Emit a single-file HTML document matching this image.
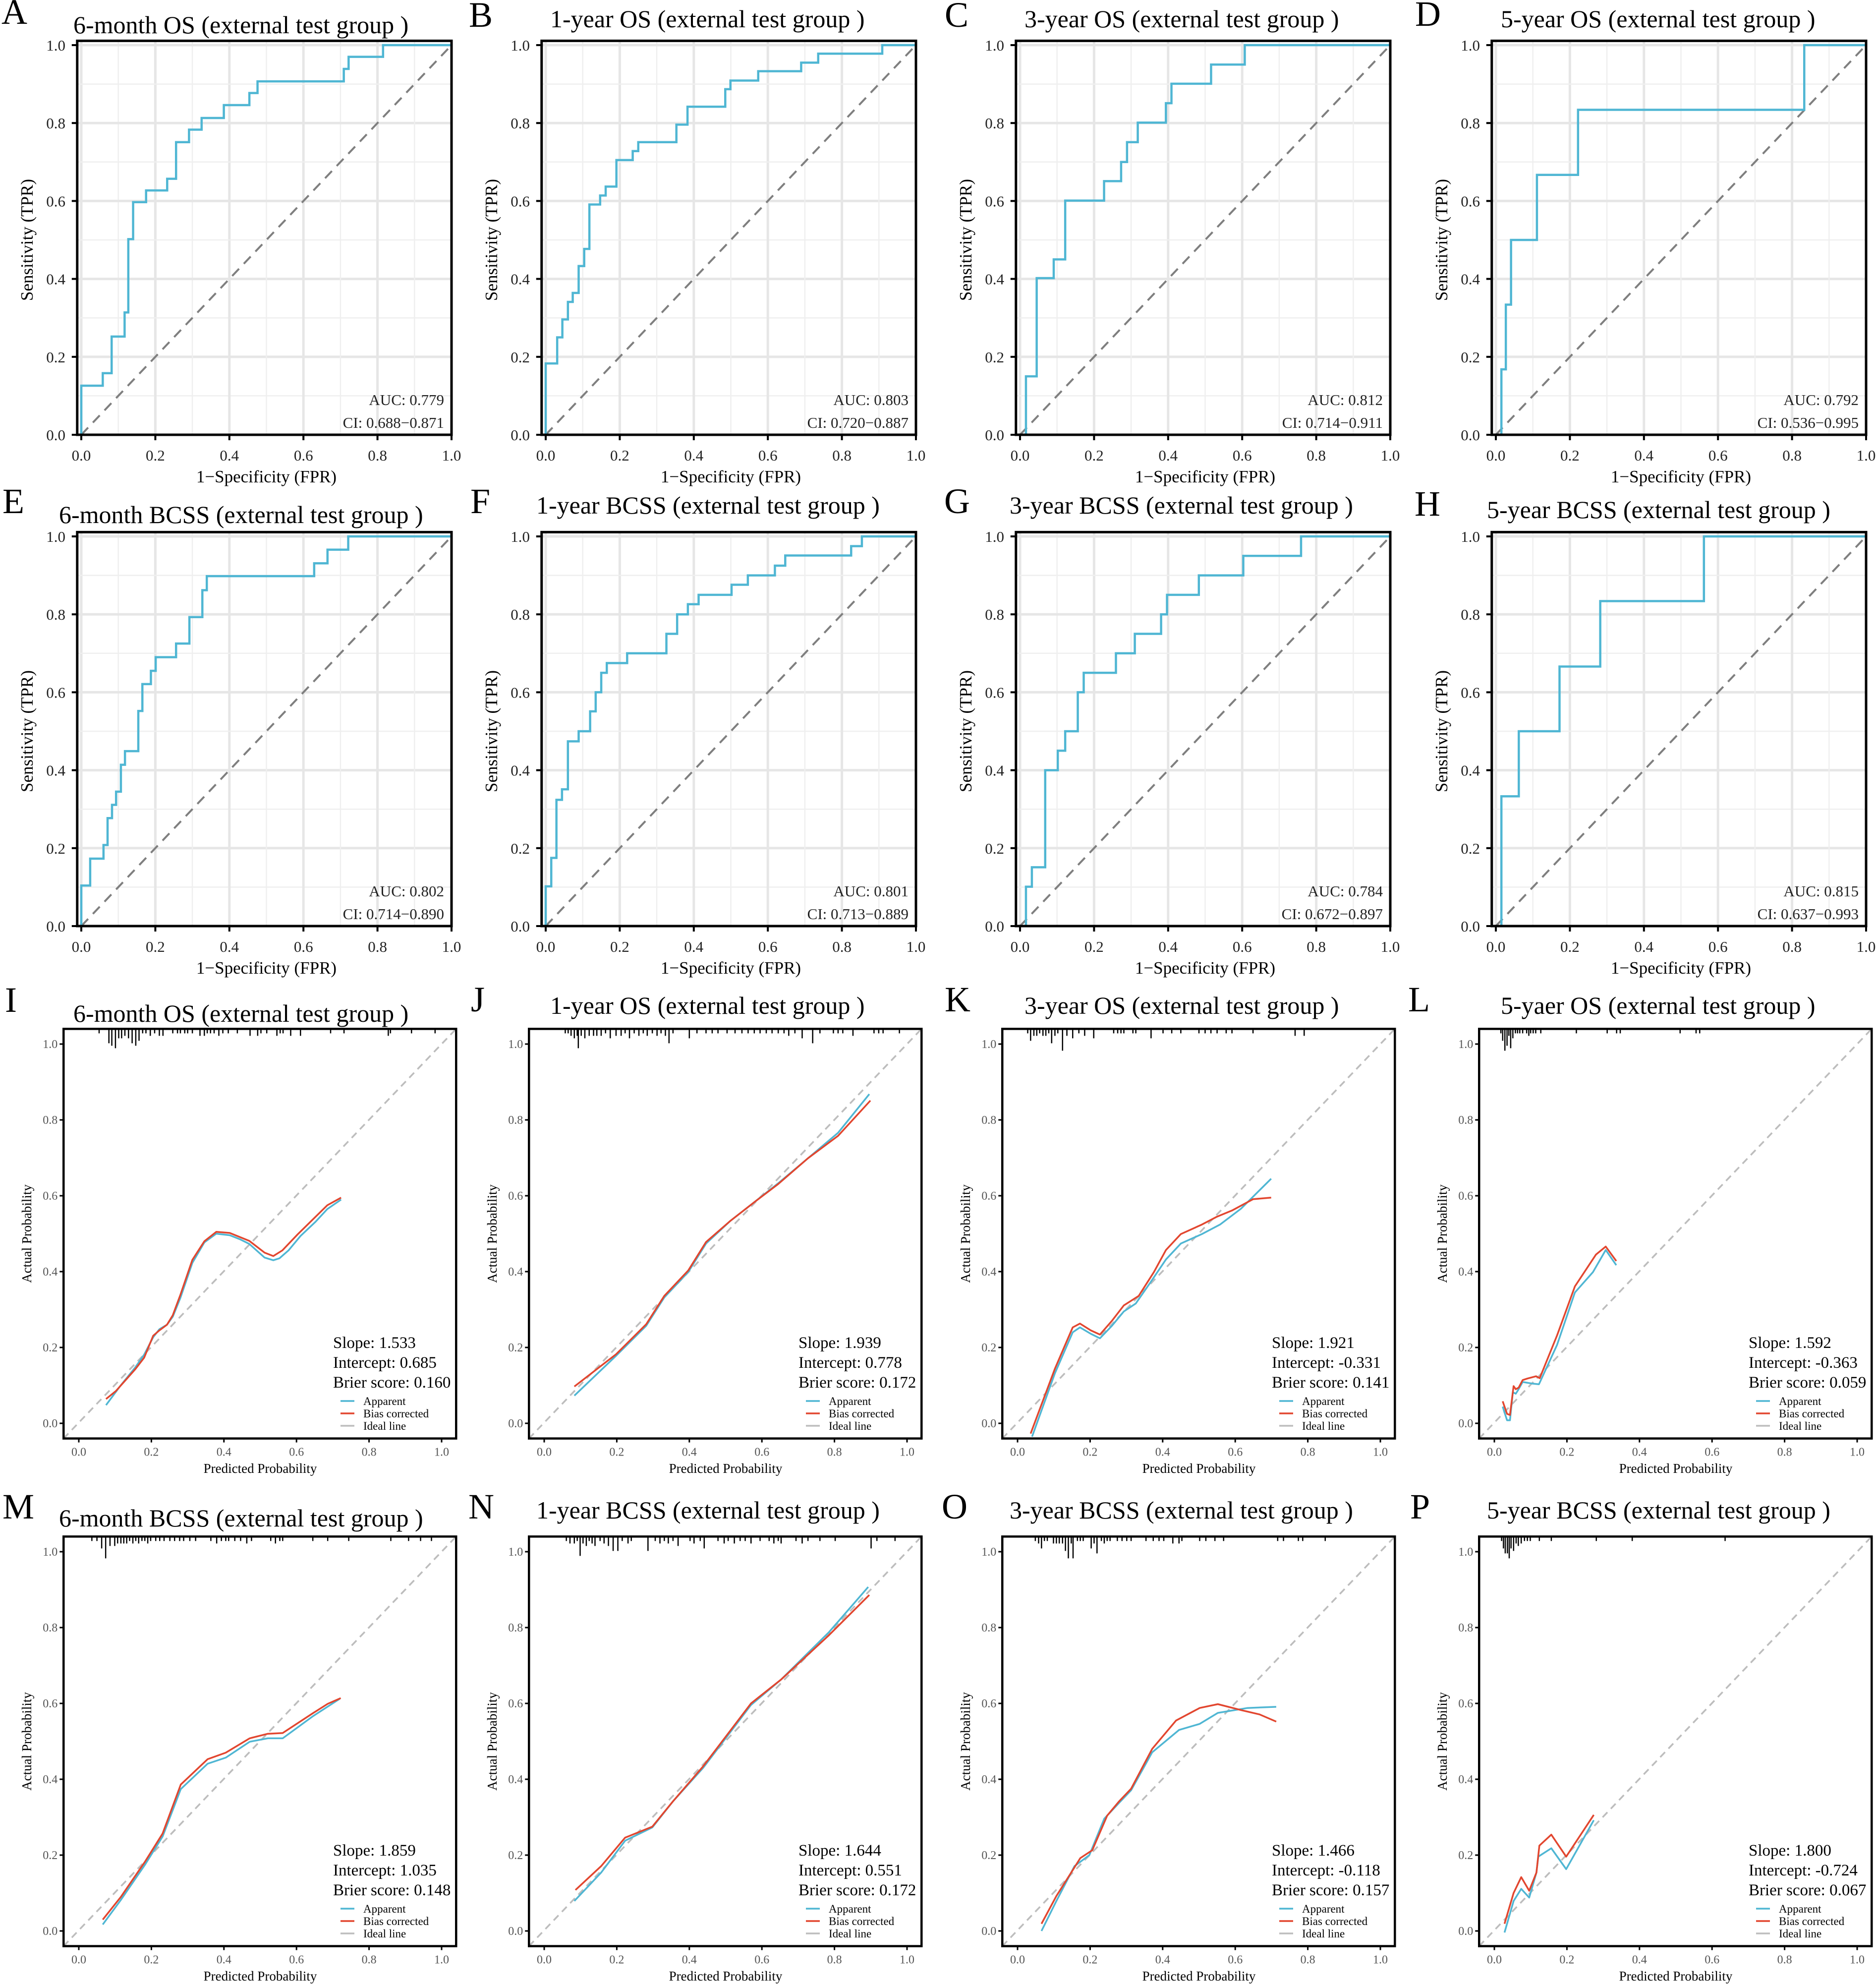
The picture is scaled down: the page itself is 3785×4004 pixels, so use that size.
<!DOCTYPE html>
<html><head><meta charset="utf-8">
<style>
html,body{margin:0;padding:0;background:#fff;}
svg{display:block;font-family:"Liberation Serif",serif;}
</style></head>
<body>
<svg id="fig" xmlns="http://www.w3.org/2000/svg" width="3785" height="4004" viewBox="0 0 3785 4004"></svg>
<script>
// ---------------- ROC DATA ----------------
const rocLetters = ["A","B","C","D","E","F","G","H"];
const rocTitles = ["6-month OS (external test group )","1-year OS (external test group )","3-year OS (external test group )","5-year OS (external test group )","6-month BCSS (external test group )","1-year BCSS (external test group )","3-year BCSS (external test group )","5-year BCSS (external test group )"];
const rocAUC = ["0.779","0.803","0.812","0.792","0.802","0.801","0.784","0.815"];
const rocCI = ["0.688\u22120.871","0.720\u22120.887","0.714\u22120.911","0.536\u22120.995","0.714\u22120.890","0.713\u22120.889","0.672\u22120.897","0.637\u22120.993"];
const rocFpr = [
 [0,.058,.082,.117,.127,.140,.175,.232,.256,.291,.325,.385,.454,.476,.709,.722,.815],
 [0,.031,.045,.060,.073,.089,.104,.118,.147,.162,.191,.235,.250,.353,.383,.485,.499,.574,.690,.736,.909],
 [.016,.045,.091,.122,.227,.273,.289,.318,.394,.409,.516,.607],
 [.015,.027,.041,.111,.222,.833],
 [0,.024,.060,.071,.083,.094,.107,.118,.154,.165,.188,.201,.256,.292,.327,.339,.629,.665,.721],
 [0,.015,.029,.044,.060,.089,.120,.135,.150,.165,.220,.326,.355,.384,.413,.502,.546,.619,.647,.825,.854],
 [.016,.032,.068,.102,.122,.156,.172,.259,.310,.381,.397,.483,.603,.759],
 [.015,.062,.172,.282,.562]
];
const rocTpr = [
 [.126,.158,.252,.314,.502,.597,.627,.657,.751,.783,.813,.846,.877,.907,.939,.970,1],
 [.183,.25,.296,.341,.364,.433,.477,.591,.614,.637,.705,.728,.751,.796,.842,.887,.909,.933,.955,.978,1],
 [.150,.402,.450,.601,.651,.700,.751,.801,.851,.901,.950,1],
 [.168,.334,.5,.667,.834,1],
 [.104,.173,.208,.277,.311,.345,.414,.449,.552,.621,.655,.690,.725,.793,.862,.898,.931,.966,1],
 [.102,.175,.324,.351,.474,.5,.551,.6,.650,.675,.700,.750,.800,.826,.850,.876,.900,.925,.951,.975,1],
 [.101,.151,.4,.450,.5,.6,.650,.700,.750,.8,.850,.900,.950,1],
 [.333,.5,.666,.834,1]
];
const rocTicks = ["0.0","0.2","0.4","0.6","0.8","1.0"];

// ---------------- CALIBRATION DATA ----------------
const calLetters = ["I","J","K","L","M","N","O","P"];
const calTitles = ["6-month OS (external test group )","1-year OS (external test group )","3-year OS (external test group )","5-yaer OS (external test group )","6-month BCSS (external test group )","1-year BCSS (external test group )","3-year BCSS (external test group )","5-year BCSS (external test group )"];
const calSlope = ["1.533","1.939","1.921","1.592","1.859","1.644","1.466","1.800"];
const calIntercept = ["0.685","0.778","-0.331","-0.363","1.035","0.551","-0.118","-0.724"];
const calBrier = ["0.160","0.172","0.141","0.059","0.148","0.172","0.157","0.067"];
const calAppX = [
 [.075,.114,.156,.180,.205,.222,.243,.259,.280,.313,.346,.379,.416,.445,.470,.512,.536,.553,.578,.611,.652,.685,.723],
 [.083,.198,.281,.331,.397,.446,.512,.579,.645,.727,.810,.896],
 [.040,.103,.152,.172,.202,.227,.260,.293,.326,.368,.409,.450,.508,.558,.616,.699],
 [.023,.035,.043,.051,.059,.067,.078,.103,.123,.173,.222,.272,.307,.336],
 [.066,.116,.182,.231,.281,.355,.405,.471,.521,.562,.645,.719],
 [.083,.157,.223,.298,.355,.438,.504,.570,.653,.785,.893],
 [.066,.107,.157,.198,.239,.280,.313,.371,.445,.502,.552,.634,.713],
 [.028,.053,.074,.096,.116,.121,.157,.198,.274]
];
const calAppY = [
 [.048,.098,.148,.181,.227,.248,.260,.281,.331,.423,.477,.500,.496,.485,.473,.437,.430,.435,.456,.494,.531,.565,.590],
 [.073,.178,.257,.332,.399,.474,.533,.583,.633,.699,.766,.868],
 [-.035,.132,.240,.253,.236,.224,.257,.295,.316,.374,.432,.474,.499,.524,.566,.645],
 [.044,.008,.008,.082,.078,.090,.109,.105,.103,.207,.345,.399,.457,.417],
 [.017,.082,.174,.249,.374,.441,.457,.499,.508,.508,.566,.612],
 [.079,.154,.238,.273,.342,.430,.513,.596,.663,.788,.907],
 [0,.079,.171,.200,.296,.338,.371,.471,.530,.546,.575,.588,.591],
 [-.004,.079,.111,.088,.154,.196,.218,.163,.292]
];
const calBiasX = [
 [.075,.102,.156,.180,.205,.222,.243,.259,.280,.313,.346,.379,.416,.470,.512,.536,.561,.603,.652,.685,.723],
 [.083,.198,.281,.331,.397,.446,.512,.579,.645,.727,.810,.899],
 [.036,.103,.152,.172,.202,.227,.260,.293,.334,.376,.409,.450,.508,.550,.591,.649,.699],
 [.023,.035,.043,.053,.059,.067,.078,.091,.115,.125,.173,.222,.280,.307,.336],
 [.066,.116,.182,.231,.281,.355,.405,.471,.521,.562,.645,.686,.722],
 [.086,.157,.223,.298,.355,.438,.504,.570,.653,.785,.896],
 [.066,.107,.173,.206,.247,.280,.313,.371,.437,.502,.552,.618,.667,.713],
 [.028,.053,.074,.096,.116,.124,.157,.198,.274]
];
const calBiasY = [
 [.064,.085,.143,.173,.231,.245,.260,.285,.339,.431,.480,.505,.502,.481,.450,.441,.456,.498,.544,.575,.595],
 [.097,.182,.261,.336,.403,.478,.533,.583,.631,.699,.758,.851],
 [-.027,.144,.253,.263,.245,.234,.270,.311,.336,.399,.457,.499,.524,.545,.561,.591,.595],
 [.058,.025,.022,.098,.090,.094,.114,.118,.124,.119,.232,.361,.445,.466,.428],
 [.030,.090,.182,.257,.386,.453,.470,.508,.520,.522,.574,.599,.614],
 [.108,.171,.246,.275,.342,.434,.517,.600,.663,.780,.886],
 [.019,.092,.192,.213,.304,.342,.375,.480,.555,.588,.598,.582,.571,.552],
 [.019,.100,.142,.106,.154,.225,.254,.196,.306]
];
const rugP = [
 [.056,.083,.091,.101,.110,.118,.127,.137,.147,.157,.166,.176,.185,.197,.209,.222,.232,.259,.272,.280,.292,.300,.313,.334,.346,.354,.363,.373,.386,.397,.412,.437,.472,.493,.502,.518,.546,.555,.563,.584,.611,.694,.731,.853,.859,.917,.982],
 [.058,.066,.074,.083,.091,.094,.102,.112,.124,.136,.145,.157,.169,.182,.198,.212,.223,.235,.248,.261,.273,.284,.298,.311,.322,.334,.344,.355,.400,.421,.446,.463,.479,.504,.526,.545,.562,.579,.595,.612,.628,.645,.661,.674,.691,.711,.740,.760,.797,.810,.823,.851,.909,.922,.934,.979],
 [.028,.036,.045,.053,.061,.070,.078,.086,.094,.103,.111,.124,.136,.152,.169,.185,.210,.265,.276,.285,.293,.318,.326,.368,.401,.425,.450,.500,.517,.533,.550,.575,.591,.649,.765,.790],
 [.018,.023,.029,.035,.040,.045,.051,.058,.064,.070,.078,.089,.095,.100,.107,.114,.128,.226,.311,.337,.347,.512,.556,.566],
 [.036,.050,.063,.074,.086,.099,.107,.116,.124,.132,.140,.149,.157,.165,.174,.182,.190,.198,.212,.223,.235,.251,.264,.278,.289,.306,.322,.364,.380,.393,.405,.413,.430,.446,.463,.476,.529,.542,.554,.562,.645,.686,.744,.860,.909,.942,.972],
 [.061,.071,.083,.091,.099,.107,.116,.124,.132,.140,.154,.165,.177,.190,.203,.215,.231,.240,.286,.306,.319,.331,.342,.355,.369,.402,.413,.430,.441,.479,.496,.507,.524,.540,.554,.570,.595,.620,.633,.645,.653,.694,.711,.727,.760,.802,.901,.917,.967],
 [.049,.058,.066,.074,.082,.099,.107,.115,.124,.132,.140,.148,.153,.165,.173,.181,.203,.211,.219,.231,.239,.247,.255,.275,.288,.301,.313,.354,.374,.390,.403,.428,.445,.453,.502,.519,.544,.568,.717,.733,.774,.786,.848],
 [.020,.025,.030,.036,.041,.046,.053,.060,.066,.074,.083,.091,.099,.124,.157,.281,.380,.636]
];
const rugC = [
 [1,5,6,7,3,3,2,3,5,6,4,1,1,2,1,2,2,1,1,1,1,1,1,2,2,1,1,1,2,1,1,1,2,2,1,1,2,1,1,2,2,1,1,2,1,1,1],
 [1,1,2,3,2,7,2,3,2,2,2,2,1,3,2,2,1,3,1,2,1,2,1,2,1,2,5,1,3,1,1,1,1,1,1,1,1,1,1,1,1,1,1,2,1,3,5,1,1,1,1,2,1,1,1,1],
 [1,4,2,2,1,2,2,1,5,2,1,8,2,3,1,2,3,1,1,1,1,1,1,3,1,1,1,1,1,1,1,1,1,1,2,2],
 [1,4,8,6,2,7,3,1,1,1,1,1,2,1,1,1,1,1,1,1,1,1,1,1],
 [1,1,4,8,3,3,2,2,2,2,1,2,1,2,1,1,2,1,1,1,1,1,1,1,1,1,1,1,2,1,1,1,1,1,2,1,1,2,1,1,1,1,1,1,1,1,1],
 [1,2,2,1,7,2,3,1,2,3,1,2,3,5,5,1,2,1,5,1,2,1,2,1,3,1,2,1,4,1,2,1,2,1,1,2,1,1,2,1,2,1,2,1,1,1,4,1,1],
 [1,2,4,1,1,2,2,2,2,5,8,2,8,1,1,1,4,2,6,1,2,1,1,1,1,1,1,1,1,1,1,2,2,1,1,1,1,1,1,1,1,1,1],
 [1,4,6,6,8,4,5,2,3,2,1,1,1,1,1,1,1,1]
];
const calTicks = ["0.0","0.2","0.4","0.6","0.8","1.0"];

// ---------------- LAYOUT ----------------
const svg = document.getElementById('fig');
const NS = "http://www.w3.org/2000/svg";
function mk(tag, attrs, parent){
  const e = document.createElementNS(NS, tag);
  for (const k in attrs) e.setAttribute(k, attrs[k]);
  parent.appendChild(e);
  return e;
}
const rocX0 = [164,1101,2058,3018], rocY0 = [877,1868], RW = 747, RH = 786;
const calX0 = [159,1098,2053,3015], calY0 = [2871,3895], CW = 732, CH = 765;
const rocLetterPos = [[3,48],[946,54],[1906,54],[2855,52],[5,1035],[949,1035],[1905,1035],[2854,1040]];
const rocTitlePos = [[148,67],[1110,55],[2067,55],[3028,55],[119,1055],[1082,1036],[2037,1036],[3000,1045]];
const calLetterPos = [[10,2041],[950,2040],[1906,2040],[2841,2040],[5,3063],[945,3063],[1900,3063],[2845,3063]];
const calTitlePos = [[148,2061],[1110,2045],[2067,2045],[3028,2045],[119,3079],[1082,3063],[2037,3063],[3000,3063]];
const BLUE = "#4fb6d3", RED = "#e2462f";
const TITLE_SIZE = 50;

// ---------------- ROC PANELS ----------------
for (let i = 0; i < 8; i++) {
  const x0 = rocX0[i % 4], y0 = rocY0[Math.floor(i / 4)];
  const sx = v => x0 + v * RW, sy = v => y0 - v * RH;
  const g = mk('g', {}, svg);
  
  
  const L = mk('text', {x: rocLetterPos[i][0], y: rocLetterPos[i][1], 'font-size': 72, fill: '#000'}, g);
  L.textContent = rocLetters[i];
  
  
  const T = mk('text', {x: rocTitlePos[i][0], y: rocTitlePos[i][1], 'font-size': TITLE_SIZE, fill: '#000'}, g);
  T.textContent = rocTitles[i];
  
  
  const left = sx(-0.011), top = sy(1.011);
  for (let k = 0; k <= 10; k++) {
    const v = k / 10, major = k % 2 === 0;
    const gx = mk('line', {x1: sx(v), x2: sx(v), y1: top, y2: y0, stroke: major ? '#e6e6e6' : '#efefef', 'stroke-width': major ? 5 : 2.5}, g);
    
    
    const gy = mk('line', {x1: left, x2: sx(1), y1: sy(v), y2: sy(v), stroke: major ? '#e6e6e6' : '#efefef', 'stroke-width': major ? 5 : 2.5}, g);
    
    
  }
  const dg = mk('line', {x1: sx(0), y1: sy(0), x2: sx(1), y2: sy(1), stroke: '#7f7f7f', 'stroke-width': 4, 'stroke-dasharray': '20 14'}, g);
  
  
  const f = rocFpr[i], t = rocTpr[i];
  let d = 'M' + sx(0) + ',' + sy(0) + ' L' + sx(f[0]) + ',' + sy(0);
  for (let k = 0; k < f.length; k++) {
    d += ' L' + sx(f[k]) + ',' + sy(t[k]);
    const nx = k + 1 < f.length ? f[k + 1] : 1;
    d += ' L' + sx(nx) + ',' + sy(t[k]);
  }
  const cp = mk('path', {d: d, fill: 'none', stroke: BLUE, 'stroke-width': 4.5, 'stroke-linejoin': 'miter'}, g);
  
  
  const bd = mk('rect', {x: left, y: top, width: sx(1) - left, height: y0 - top, fill: 'none', stroke: '#000', 'stroke-width': 5}, g);
  
  
  for (let k = 0; k < rocTicks.length; k++) {
    const v = k / 5;
    const tx = mk('line', {x1: sx(v), x2: sx(v), y1: y0, y2: y0 + 11, stroke: '#000', 'stroke-width': 4}, g);
    
    
    const lx = mk('text', {x: sx(v), y: y0 + 52, 'font-size': 31, 'text-anchor': 'middle', fill: '#222'}, g);
    lx.textContent = rocTicks[k];
    
    
    const ty = mk('line', {x1: left, x2: left - 11, y1: sy(v), y2: sy(v), stroke: '#000', 'stroke-width': 4}, g);
    
    
    const ly = mk('text', {x: x0 - 32, y: sy(v) + 11, 'font-size': 31, 'text-anchor': 'end', fill: '#222'}, g);
    ly.textContent = rocTicks[k];
    
    
  }
  const xt = mk('text', {x: sx(0.5), y: y0 + 96, 'font-size': 35, 'text-anchor': 'middle', fill: '#000'}, g);
  xt.textContent = '1\u2212Specificity (FPR)';
  
  
  const yt = mk('text', {x: 0, y: 0, 'font-size': 35, 'text-anchor': 'middle', fill: '#000', transform: 'translate(' + (x0 - 98) + ',' + sy(0.5) + ') rotate(-90)'}, g);
  yt.textContent = 'Sensitivity (TPR)';
  
  
  const au = mk('text', {x: sx(1) - 15, y: y0 - 60, 'font-size': 31, 'text-anchor': 'end', fill: '#222'}, g);
  au.textContent = 'AUC: ' + rocAUC[i];
  
  
  const ci = mk('text', {x: sx(1) - 15, y: y0 - 14, 'font-size': 31, 'text-anchor': 'end', fill: '#222'}, g);
  ci.textContent = 'CI: ' + rocCI[i];
  
  
}

// ---------------- CALIBRATION PANELS ----------------
for (let i = 0; i < 8; i++) {
  const x0 = calX0[i % 4], y0 = calY0[Math.floor(i / 4)];
  const sx = v => x0 + v * CW, sy = v => y0 - v * CH;
  const g = mk('g', {}, svg);
  
  
  const L = mk('text', {x: calLetterPos[i][0], y: calLetterPos[i][1], 'font-size': 72, fill: '#000'}, g);
  L.textContent = calLetters[i];
  
  
  const T = mk('text', {x: calTitlePos[i][0], y: calTitlePos[i][1], 'font-size': TITLE_SIZE, fill: '#000'}, g);
  T.textContent = calTitles[i];
  
  
  const left = sx(-0.042), right = sx(1.04), top = sy(1.04), bottom = sy(-0.04);
  const il = mk('line', {x1: left, y1: bottom, x2: right, y2: top, stroke: '#bdbdbd', 'stroke-width': 3.5, 'stroke-dasharray': '14 10'}, g);
  
  
  let da = '';
  calAppX[i].forEach((v, k) => { da += (k ? ' L' : 'M') + sx(v).toFixed(1) + ',' + sy(calAppY[i][k]).toFixed(1); });
  const ap = mk('path', {d: da, fill: 'none', stroke: BLUE, 'stroke-width': 3.5, 'stroke-linejoin': 'round'}, g);
  
  
  let db = '';
  calBiasX[i].forEach((v, k) => { db += (k ? ' L' : 'M') + sx(v).toFixed(1) + ',' + sy(calBiasY[i][k]).toFixed(1); });
  const bp = mk('path', {d: db, fill: 'none', stroke: RED, 'stroke-width': 3.5, 'stroke-linejoin': 'round'}, g);
  
  
  rugP[i].forEach((p, k) => {
    const r = mk('line', {x1: sx(p), x2: sx(p), y1: top, y2: top + 4 + rugC[i][k] * 5, stroke: '#000', 'stroke-width': 2.5}, g);
    
    
  });
  const bd = mk('rect', {x: left, y: top, width: right - left, height: bottom - top, fill: 'none', stroke: '#000', 'stroke-width': 4.5}, g);
  
  
  for (let k = 0; k < calTicks.length; k++) {
    const v = k / 5;
    const tx = mk('line', {x1: sx(v), x2: sx(v), y1: bottom, y2: bottom + 8, stroke: '#000', 'stroke-width': 3}, g);
    
    
    const lx = mk('text', {x: sx(v), y: bottom + 35, 'font-size': 24, 'text-anchor': 'middle', fill: '#555'}, g);
    lx.textContent = calTicks[k];
    
    
    const ty = mk('line', {x1: left, x2: left - 8, y1: sy(v), y2: sy(v), stroke: '#000', 'stroke-width': 3}, g);
    
    
    const ly = mk('text', {x: left - 12, y: sy(v) + 8, 'font-size': 24, 'text-anchor': 'end', fill: '#555'}, g);
    ly.textContent = calTicks[k];
    
    
  }
  const xt = mk('text', {x: sx(0.5), y: y0 + 100, 'font-size': 27, 'text-anchor': 'middle', fill: '#000'}, g);
  xt.textContent = 'Predicted Probability';
  
  
  const yt = mk('text', {x: 0, y: 0, 'font-size': 27, 'text-anchor': 'middle', fill: '#000', transform: 'translate(' + (x0 - 96) + ',' + sy(0.5) + ') rotate(-90)'}, g);
  yt.textContent = 'Actual Probability';
  
  
  const stats = ['Slope: ' + calSlope[i], 'Intercept: ' + calIntercept[i], 'Brier score: ' + calBrier[i]];
  const sy0 = [y0 - 152, y0 - 112, y0 - 72];
  stats.forEach((s, k) => {
    const st = mk('text', {x: x0 + 513, y: sy0[k], 'font-size': 33, fill: '#000'}, g);
    st.textContent = s;
    
    
  });
  const legTxt = ['Apparent', 'Bias corrected', 'Ideal line'];
  const legCol = [BLUE, RED, '#bdbdbd'];
  const legY = [y0 - 45, y0 - 20, y0 + 5];
  legTxt.forEach((s, k) => {
    const ll = mk('line', {x1: x0 + 528, x2: x0 + 556, y1: legY[k], y2: legY[k], stroke: legCol[k], 'stroke-width': 3.5}, g);
    
    
    const lt = mk('text', {x: x0 + 574, y: legY[k] + 8, 'font-size': 23, fill: '#000'}, g);
    lt.textContent = s;
    
    
  });
}
</script>
</body></html>
